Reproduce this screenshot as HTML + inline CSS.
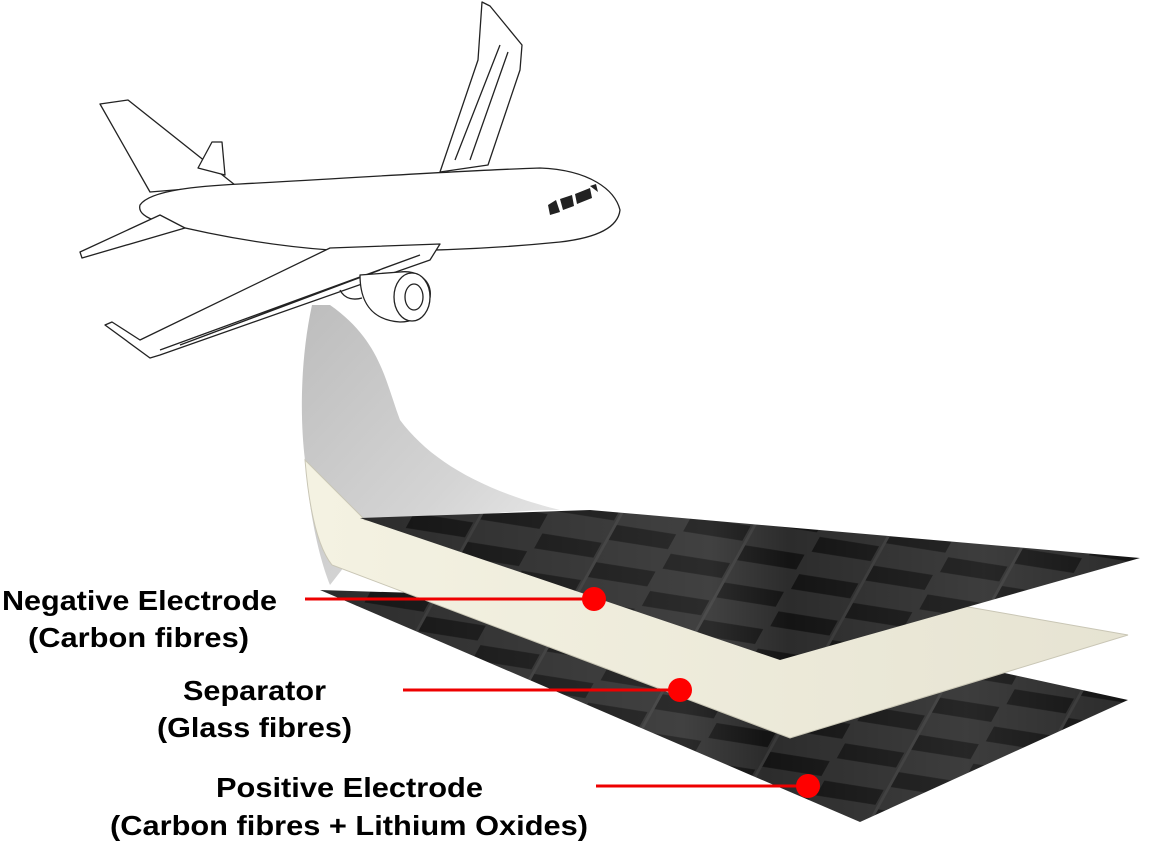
<!DOCTYPE html>
<html><head><meta charset="utf-8"><style>
html,body{margin:0;padding:0;background:#fff;width:1150px;height:846px;overflow:hidden}
svg{display:block}
text{font-family:"Liberation Sans",Arial,sans-serif;font-weight:bold;font-size:28px;fill:#000}
</style></head><body>
<svg width="1150" height="846" viewBox="0 0 1150 846" xmlns="http://www.w3.org/2000/svg">
<defs>
<linearGradient id="gray" x1="0" y1="0" x2="1" y2="1">
<stop offset="0" stop-color="#bdbdbd"/><stop offset="0.6" stop-color="#d4d4d4"/><stop offset="1" stop-color="#ececec"/>
</linearGradient>
<linearGradient id="cream" x1="0" y1="0" x2="1" y2="0">
<stop offset="0" stop-color="#f4f2e2"/><stop offset="1" stop-color="#e6e3d2"/>
</linearGradient>
<pattern id="weave" width="130" height="40" patternUnits="userSpaceOnUse" patternTransform="rotate(9) skewX(-20)">
<rect width="130" height="40" fill="#2c2c2c"/>
<rect x="0" y="2" width="60" height="16" fill="#141414"/>
<rect x="65" y="22" width="60" height="16" fill="#141414"/>
<rect x="62" y="0" width="3" height="40" fill="#383838"/>
</pattern>
<linearGradient id="sheen" x1="0" y1="0" x2="1" y2="0">
<stop offset="0" stop-color="#fff" stop-opacity="0"/><stop offset="0.45" stop-color="#fff" stop-opacity="0.1"/><stop offset="0.55" stop-color="#fff" stop-opacity="0"/><stop offset="0.8" stop-color="#fff" stop-opacity="0.08"/><stop offset="1" stop-color="#fff" stop-opacity="0"/>
</linearGradient>
</defs>

<path d="M312,305 C300,360 300,420 305,460 C310,520 320,560 330,585 L365,540 C420,520 500,510 560,510 C480,490 430,460 400,420 C385,380 380,340 330,305 Z" fill="url(#gray)"/>

<path d="M320,590 L860,822 L1128,700 L1000,672 L640,600 Z" fill="url(#weave)"/>
<path d="M320,590 L860,822 L1128,700 L1000,672 L640,600 Z" fill="url(#sheen)"/>

<path d="M305,460 C310,520 320,550 332,565 L790,738 L1128,635 L700,560 L365,520 Z" fill="url(#cream)" stroke="#c9c6b5" stroke-width="1"/>

<path d="M360,518 L590,510 L1140,558 L780,660 Z" fill="url(#weave)"/>
<path d="M360,518 L590,510 L1140,558 L780,660 Z" fill="url(#sheen)"/>

<g fill="#fff" stroke="#222" stroke-width="1.3" stroke-linejoin="round">
<path d="M440,172 L478,60 L482,2 L490,6 L522,45 L520,70 L488,165 Z"/>
<path d="M455,160 L500,45 M470,160 L508,52" fill="none"/>
<path d="M150,192 L100,104 L128,100 L235,185 Z"/>
<path d="M198,168 L212,142 L222,142 L225,175 Z"/>
<path d="M140,205 C150,190 200,186 240,184 C350,178 470,170 540,168 C590,170 615,190 620,210 C618,228 595,238 560,242 C480,250 400,252 330,250 C260,245 200,232 160,222 C145,218 138,212 140,205 Z"/>
<path d="M160,215 L80,252 L82,258 L185,228 Z"/>
<path d="M330,248 L440,244 L430,260 L160,355 L150,358 L105,325 L112,322 L140,340 Z"/>
<path d="M160,350 L420,255 M180,345 L380,270" fill="none"/>
<path d="M360,275 C360,300 370,320 400,322 C425,322 432,300 430,290 C428,278 415,270 400,272 Z"/>
<ellipse cx="412" cy="297" rx="18" ry="24"/>
<ellipse cx="414" cy="297" rx="9" ry="13"/>
<path d="M340,290 C345,300 355,300 362,298" fill="none"/>
</g>
<path d="M548,205 L556,200 L560,212 L550,215 Z M560,199 L572,195 L574,206 L563,210 Z M575,194 L590,188 L592,198 L577,204 Z M590,186 L596,184 L598,192 Z" fill="#222"/>

<line x1="305" y1="599" x2="594" y2="599" stroke="#e00" stroke-width="3"/>
<circle cx="594" cy="599" r="12" fill="#f00"/>
<line x1="403" y1="690" x2="680" y2="690" stroke="#e00" stroke-width="3"/>
<circle cx="680" cy="690" r="12" fill="#f00"/>
<line x1="596" y1="786" x2="808" y2="786" stroke="#e00" stroke-width="3"/>
<circle cx="808" cy="786" r="12" fill="#f00"/>

<text x="2" y="610" textLength="275" lengthAdjust="spacingAndGlyphs">Negative Electrode</text>
<text x="28" y="647" textLength="221" lengthAdjust="spacingAndGlyphs">(Carbon fibres)</text>
<text x="183" y="700" textLength="143" lengthAdjust="spacingAndGlyphs">Separator</text>
<text x="157" y="737" textLength="195" lengthAdjust="spacingAndGlyphs">(Glass fibres)</text>
<text x="216" y="797" textLength="267" lengthAdjust="spacingAndGlyphs">Positive Electrode</text>
<text x="110" y="835" textLength="478" lengthAdjust="spacingAndGlyphs">(Carbon fibres + Lithium Oxides)</text>
</svg>
</body></html>
